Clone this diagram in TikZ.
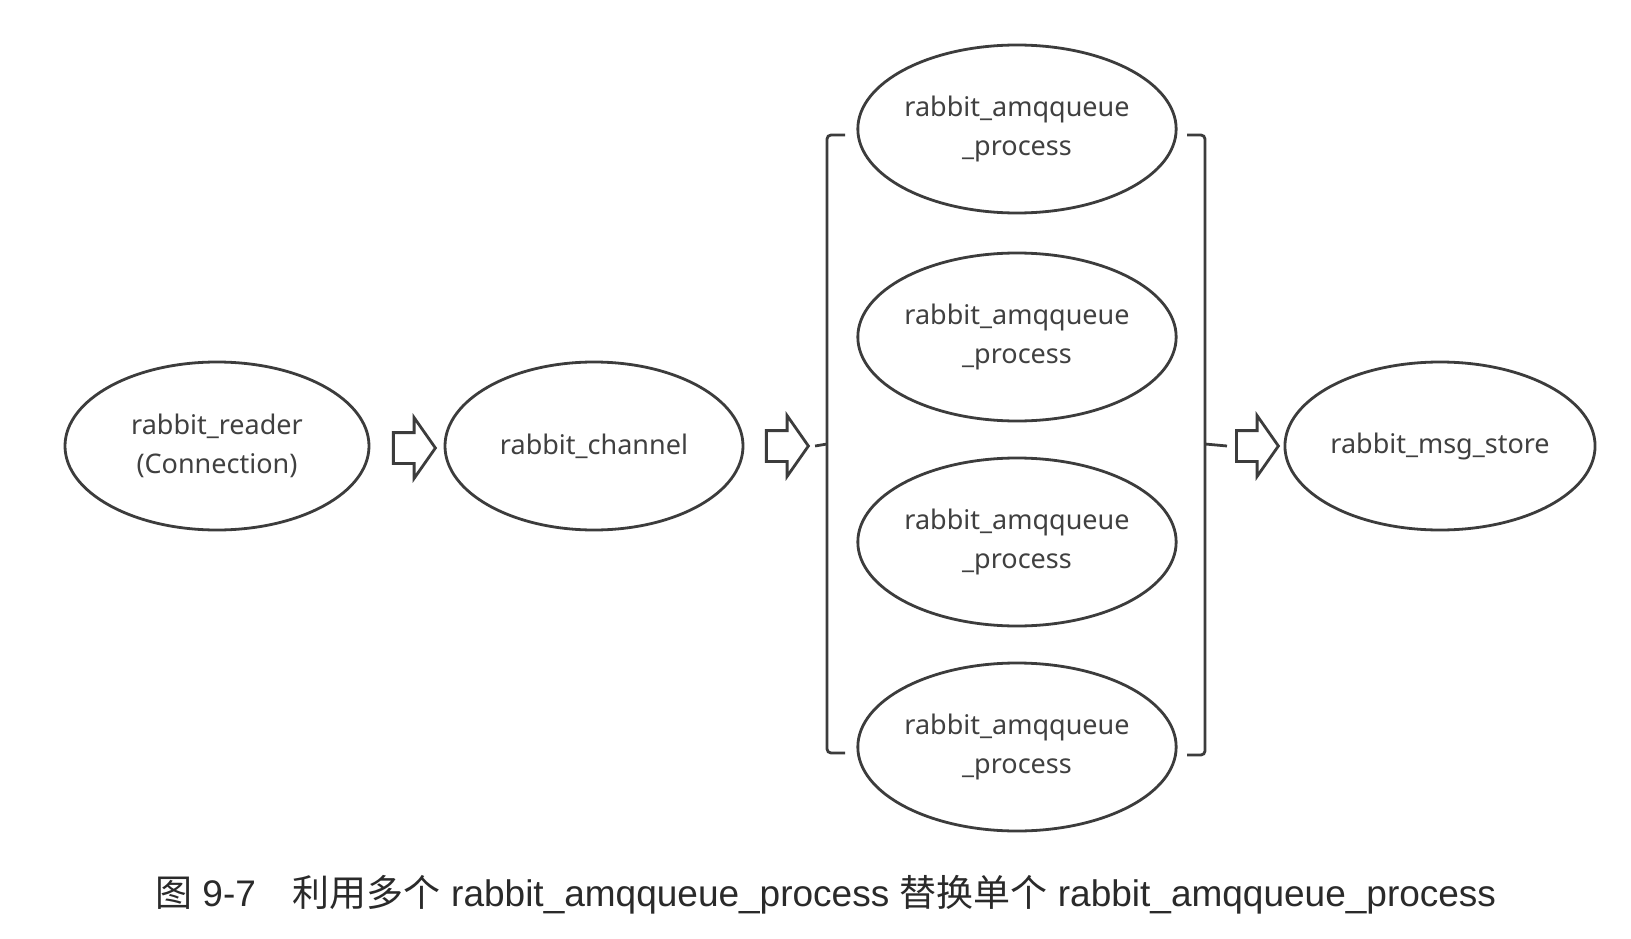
\documentclass[tikz,border=0pt]{standalone}
\usepackage{fontspec}
\setmainfont{Liberation Sans}
\newfontfamily\cjk{Noto Sans CJK SC}
\newfontfamily\boxfont{Noto Sans}
\usetikzlibrary{shapes.geometric,shapes.arrows}
\definecolor{linec}{HTML}{3C3C3C}
\definecolor{textc}{HTML}{404040}
\definecolor{capc}{HTML}{2A2A2A}
\tikzset{
  proc/.style={ellipse, draw=linec, line width=2.8pt, minimum width=#1, minimum height=168pt,
    inner sep=0pt, align=center, text=textc, font=\boxfont\fontsize{27}{39}\selectfont},
  proc/.default=300pt,
  blockarrow/.style={single arrow, draw=linec, line width=2.8pt, minimum height=42pt,
    inner sep=0pt, inner ysep=14pt, single arrow head extend=15pt,
    single arrow tip angle=110},
  bracketline/.style={draw=linec, line width=2.8pt, rounded corners=4pt},
  stub/.style={draw=linec, line width=2.8pt},
}
\begin{document}
\begin{tikzpicture}[x=1pt,y=-1pt]
\useasboundingbox (0,0) rectangle (1631,939);
\fill[white] (0,0) rectangle (1631,939);

\node[proc=304pt] (reader) at (217,446) {rabbit\_reader\\(Connection)};
\node[proc=298pt] (channel) at (594,446) {rabbit\_channel};
\node[proc=302pt] (q1) at (1017,129) {rabbit\_amqqueue\\\_process};
\node[proc=302pt] (q2) at (1017,337) {rabbit\_amqqueue\\\_process};
\node[proc=302pt] (q3) at (1017,542) {rabbit\_amqqueue\\\_process};
\node[proc=302pt] (q4) at (1017,747) {rabbit\_amqqueue\\\_process};
\node[proc=296pt] (store) at (1440,446) {rabbit\_msg\_store};

\node[blockarrow] (a1) at (409,448) {};
\node[blockarrow] (a2) at (782,446) {};
\node[blockarrow] (a3) at (1252,446) {};

% brackets
\coordinate (lbt) at (845,135);
\coordinate (lbb) at (845,753);
\coordinate (rbt) at (1187,135);
\coordinate (rbb) at (1187,755);
\draw[bracketline] (lbt) -- (827,135) -- (827,753) -- (lbb);
\draw[bracketline] (rbt) -- (1205,135) -- (1205,755) -- (rbb);
\coordinate (lstub) at (827,444);
\coordinate (rstub) at (1205,444);
\draw[stub] ([xshift=5pt]a2.tip) -- (lstub);
\draw[stub] (rstub) -- ([xshift=-8pt]a3.tail);

\node[anchor=west, text=capc, font=\fontsize{37}{41}\selectfont, inner sep=0pt] (cap) at (155,895)
  {{\cjk 图} 9-7\quad{\cjk 利用多个} rabbit\_amqqueue\_process {\cjk 替换单个} rabbit\_amqqueue\_process};
\end{tikzpicture}
\end{document}
